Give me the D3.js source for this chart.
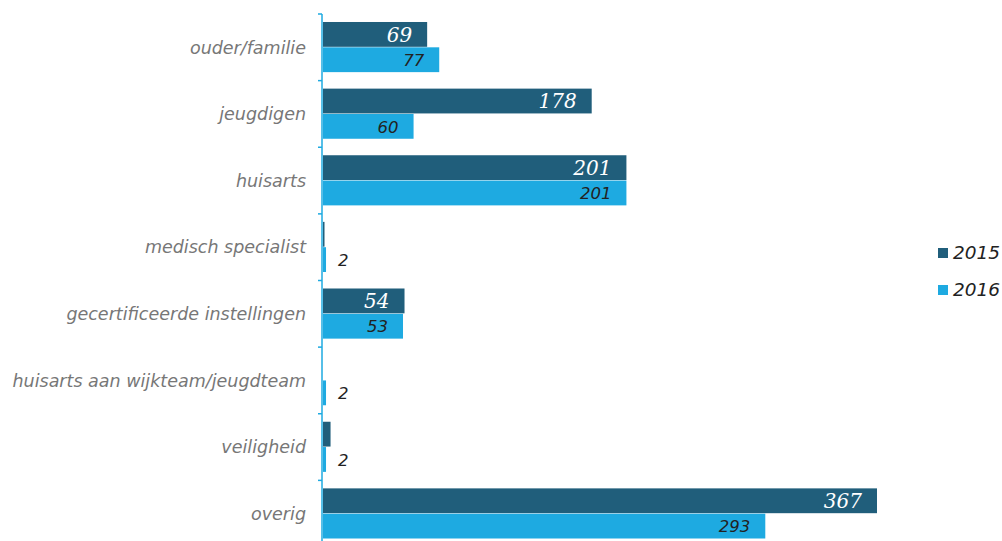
<!DOCTYPE html>
<html lang="nl">
  <head>
    <meta charset="utf-8">
    <title>Verwijzers</title>
    <script src="https://cdn.jsdelivr.net/npm/d3@7"></script>
    <style>
      body { margin: 0; background: #fff; }
    </style>
  </head>
  <body>
    <script>
      // data
      var categories = ['ouder/familie', 'jeugdigen', 'huisarts', 'medisch specialist',
        'gecertificeerde instellingen', 'huisarts aan wijkteam/jeugdteam', 'veiligheid', 'overig']
      var years = ['2015', '2016']
      var values2015 = [69, 178, 201, 1, 54, 0, 5, 367]
      var values2016 = [77, 60, 201, 2, 53, 2, 2, 293]
      var colors = ['#205e7b', '#1eaae1']

      var width = 1002, height = 541
      var plotLeft = 322, plotTop = 14, plotBottom = 547

      var svg = d3.select('body').append('svg').attr('width', width).attr('height', height)

      var y = d3.scaleBand().domain(categories).range([plotTop, plotBottom]).paddingInner(0.24).paddingOuter(0.12)
      var y2 = d3.scaleBand().domain(years).range([0, y.bandwidth()])
      var x = d3.scaleLinear().domain([0, 367]).range([plotLeft + 1, 877])

      var rows = categories.map(function(c, i) {
        return { cat: c, vals: [values2015[i], values2016[i]] }
      })

      var g = svg.selectAll('g.row').data(rows).enter().append('g')
        .attr('class', 'row')
        .attr('transform', function(d) { return 'translate(0,' + y(d.cat) + ')' })

      years.forEach(function(yr, k) {
        g.append('rect')
          .attr('x', x(0))
          .attr('y', y2(yr))
          .attr('width', function(d) { return x(d.vals[k]) - x(0) })
          .attr('height', y2.bandwidth() - 0.5)
          .attr('fill', colors[k])

        // small 2015 values get no label, small 2016 values sit outside the bar
        g.filter(function(d) { return d.vals[k] >= 10 || (k == 1 && d.vals[k] > 0) })
          .append('text')
          .attr('x', function(d) { return d.vals[k] >= 10 ? x(d.vals[k]) - 15 : x(d.vals[k]) + 12 })
          .attr('y', y2(yr) + y2.bandwidth() / 2)
          .attr('dy', '0.36em')
          .attr('text-anchor', function(d) { return d.vals[k] >= 10 ? 'end' : 'start' })
          .attr('font-family', k == 0 ? 'DejaVu Serif, serif' : 'DejaVu Sans, sans-serif')
          .attr('font-style', 'italic')
          .attr('font-size', k == 0 ? 20 : 16.5)
          .attr('fill', k == 0 ? '#fff' : '#222')
          .text(function(d) { return d.vals[k] })
      })

      // axis with ticks at band boundaries
      var axisColor = '#1eaae1'
      svg.append('line')
        .attr('x1', plotLeft).attr('x2', plotLeft)
        .attr('y1', plotTop).attr('y2', height)
        .attr('stroke', axisColor).attr('stroke-width', 1.5)

      var step = (plotBottom - plotTop) / categories.length
      svg.selectAll('line.tick').data(d3.range(categories.length)).enter().append('line')
        .attr('class', 'tick')
        .attr('x1', plotLeft - 4).attr('x2', plotLeft)
        .attr('y1', function(i) { return plotTop + i * step })
        .attr('y2', function(i) { return plotTop + i * step })
        .attr('stroke', axisColor).attr('stroke-width', 1.5)

      svg.selectAll('text.cat').data(categories).enter().append('text')
        .attr('class', 'cat')
        .attr('x', 306)
        .attr('y', function(d) { return y(d) + y.bandwidth() / 2 })
        .attr('dy', '0.36em')
        .attr('text-anchor', 'end')
        .attr('font-family', 'DejaVu Sans, sans-serif')
        .attr('font-style', 'italic')
        .attr('font-size', 17.5)
        .attr('fill', '#777')
        .text(function(d) { return d })

      // legend
      var legend = svg.selectAll('g.legend').data(years).enter().append('g')
        .attr('class', 'legend')
        .attr('transform', function(d, i) { return 'translate(938,' + (259 + i * 37) + ')' })
      legend.append('rect')
        .attr('x', 0).attr('y', -11)
        .attr('width', 10).attr('height', 10)
        .attr('fill', function(d, i) { return colors[i] })
      legend.append('text')
        .attr('x', 15).attr('y', 0)
        .attr('font-family', 'DejaVu Sans, sans-serif')
        .attr('font-style', 'italic')
        .attr('font-size', 18.5)
        .attr('fill', '#222')
        .text(function(d) { return d })
    </script>
  </body>
</html>
